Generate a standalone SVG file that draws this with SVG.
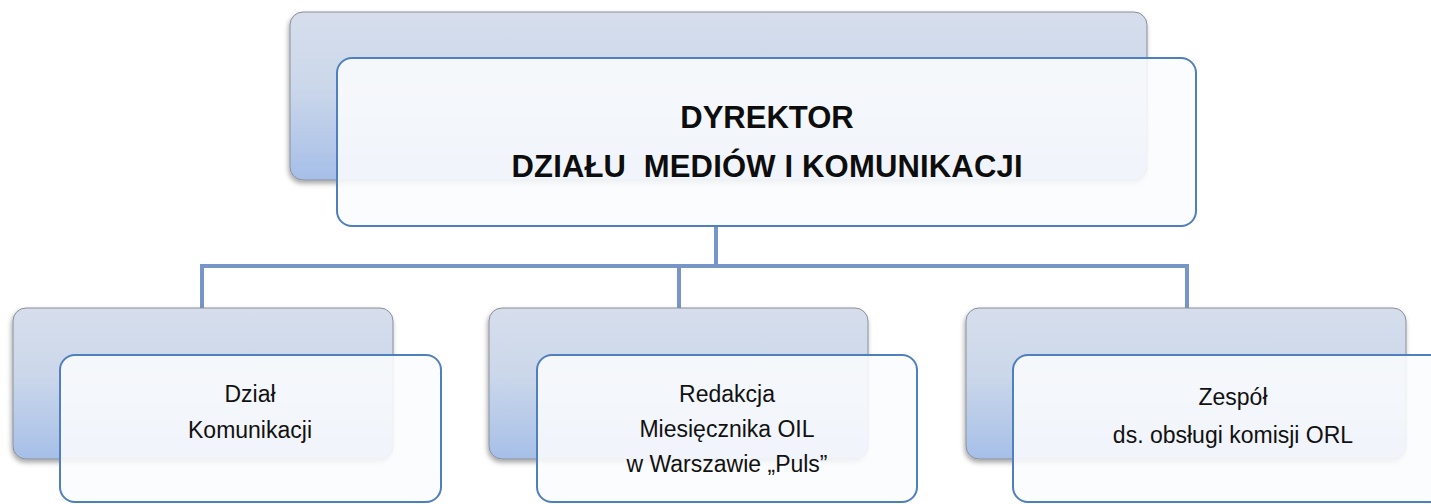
<svg xmlns="http://www.w3.org/2000/svg" width="1431" height="504" viewBox="0 0 1431 504">
<defs>
<linearGradient id="backGrad" x1="0" y1="0" x2="0" y2="1">
<stop offset="0" stop-color="#d6deec"/>
<stop offset="0.45" stop-color="#cbd7ea"/>
<stop offset="1" stop-color="#a6bfe8"/>
</linearGradient>
<filter id="shadow" x="-5%" y="-5%" width="110%" height="115%">
<feDropShadow dx="-1" dy="3" stdDeviation="2.5" flood-color="#000" flood-opacity="0.35"/>
</filter>
</defs>
<style>
.back{fill:url(#backGrad);stroke:#8a8f99;stroke-width:1;filter:url(#shadow)}
.front{fill:#fbfcfd;fill-opacity:0.88;stroke:#4f7fbc;stroke-width:2}
.conn{fill:none;stroke:#7596c6;stroke-width:4}
.t1{font-family:"Liberation Sans",Arial,sans-serif;font-weight:bold;font-size:31px;fill:#0d0d0d;text-anchor:middle}
.t2{font-family:"Liberation Sans",Arial,sans-serif;font-size:23px;fill:#111;text-anchor:middle}
</style>
<rect width="1431" height="504" fill="#ffffff"/>
<g id="connectors">
<path class="conn" d="M716,226 V266"/>
<path class="conn" d="M202,308 V266 H1187 V308"/>
<path class="conn" d="M679,266 V308"/>
</g>
<g id="node-dyrektor">
<rect class="back" x="290" y="12" width="857" height="168" rx="13"/>
<rect class="front" x="337" y="58" width="859" height="168" rx="15"/>
<text class="t1" x="767" y="128">DYREKTOR</text>
<text class="t1" x="767" y="177" textLength="511" xml:space="preserve">DZIAŁU  MEDIÓW I KOMUNIKACJI</text>
</g>
<g id="node-dzial">
<rect class="back" x="13" y="308" width="380" height="151" rx="13"/>
<rect class="front" x="60" y="355" width="381" height="147" rx="15"/>
<text class="t2" x="250" y="402">Dział</text>
<text class="t2" x="250" y="438">Komunikacji</text>
</g>
<g id="node-redakcja">
<rect class="back" x="489" y="308" width="379" height="151" rx="13"/>
<rect class="front" x="537" y="355" width="380" height="147" rx="15"/>
<text class="t2" x="727" y="402">Redakcja</text>
<text class="t2" x="727" y="437">Miesięcznika OIL</text>
<text class="t2" x="727" y="472">w Warszawie „Puls”</text>
</g>
<g id="node-zespol">
<rect class="back" x="966" y="308" width="440" height="151" rx="13"/>
<rect class="front" x="1013" y="355" width="440" height="147" rx="15"/>
<text class="t2" x="1233" y="405">Zespół</text>
<text class="t2" x="1233" y="443">ds. obsługi komisji ORL</text>
</g>
</svg>
